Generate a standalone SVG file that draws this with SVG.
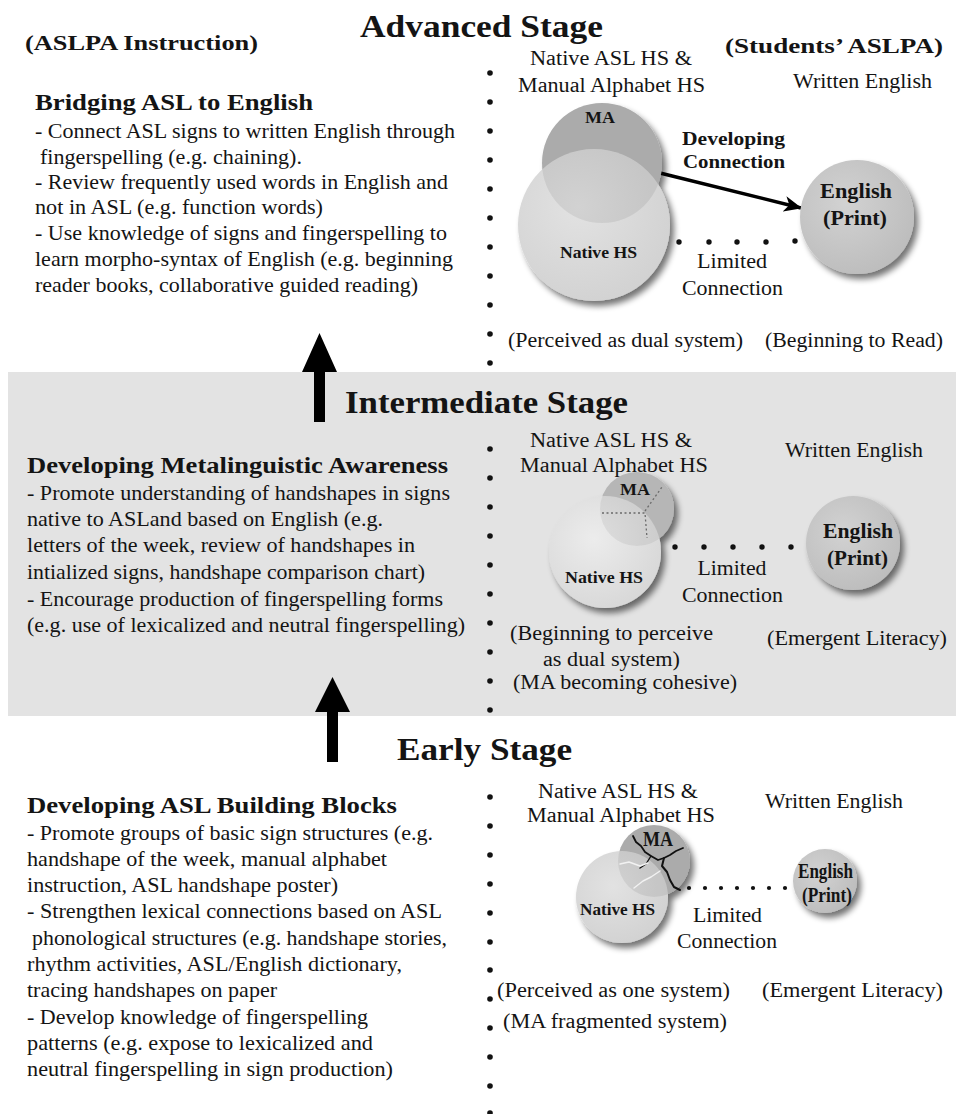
<svg xmlns="http://www.w3.org/2000/svg" width="956" height="1114" viewBox="0 0 956 1114">
<style>
.t{font-family:"Liberation Serif","Times New Roman",serif;font-size:22px;fill:#141414}
.r{font-size:20px}
.b{font-weight:bold}
.ttl{font-size:32px;font-weight:bold}
.hd{font-size:24px;font-weight:bold}
.m{text-anchor:middle}
.s16{font-size:16px}
.s18{font-size:18px}
.vd{fill:#111}
.cd{fill:#111}
.ua{fill:#000}
</style>
<defs>
<filter id="ds" x="-30%" y="-30%" width="170%" height="170%">
<feGaussianBlur in="SourceAlpha" stdDeviation="3"/>
<feOffset dx="4" dy="5" result="o"/>
<feComponentTransfer><feFuncA type="linear" slope="0.55"/></feComponentTransfer>
<feMerge><feMergeNode/><feMergeNode in="SourceGraphic"/></feMerge>
</filter>
<radialGradient id="gN" cx="40%" cy="38%" r="65%"><stop offset="0" stop-color="#e2e2e2"/><stop offset="1" stop-color="#d2d2d2"/></radialGradient>
<radialGradient id="gN2" cx="40%" cy="38%" r="65%"><stop offset="0" stop-color="#ececec"/><stop offset="1" stop-color="#d8d8d8"/></radialGradient>
<radialGradient id="gE" cx="40%" cy="38%" r="65%"><stop offset="0" stop-color="#d2d2d2"/><stop offset="1" stop-color="#bdbdbd"/></radialGradient>
<marker id="ah" markerUnits="userSpaceOnUse" markerWidth="20" markerHeight="16" refX="17" refY="8" orient="auto">
<path d="M0,0 L18,8 L0,16 L5,8 Z" fill="#000"/>
</marker>
</defs>

<rect id="band" x="8" y="372" width="948" height="344" fill="#e3e3e3"/>

<g id="headers">
<text class="t b" x="25" y="50" font-size="24" textLength="233" lengthAdjust="spacingAndGlyphs">(ASLPA Instruction)</text>
<text class="t b" x="725" y="53" font-size="24" textLength="218" lengthAdjust="spacingAndGlyphs">(Students’ ASLPA)</text>
<text class="t ttl" x="360" y="37" textLength="243" lengthAdjust="spacingAndGlyphs">Advanced Stage</text>
<text class="t ttl" x="345" y="413" textLength="283" lengthAdjust="spacingAndGlyphs">Intermediate Stage</text>
<text class="t ttl" x="397" y="760" textLength="175" lengthAdjust="spacingAndGlyphs">Early Stage</text>
</g>

<g id="divider">
<circle class="vd" cx="490" cy="73" r="2.8"/><circle class="vd" cx="490" cy="102" r="2.8"/><circle class="vd" cx="490" cy="131" r="2.8"/><circle class="vd" cx="490" cy="160" r="2.8"/><circle class="vd" cx="490" cy="189" r="2.8"/><circle class="vd" cx="490" cy="218" r="2.8"/><circle class="vd" cx="490" cy="247" r="2.8"/><circle class="vd" cx="490" cy="276" r="2.8"/><circle class="vd" cx="490" cy="305" r="2.8"/><circle class="vd" cx="490" cy="334" r="2.8"/><circle class="vd" cx="490" cy="363" r="2.8"/>
<circle class="vd" cx="490" cy="449" r="2.8"/><circle class="vd" cx="490" cy="478" r="2.8"/><circle class="vd" cx="490" cy="507" r="2.8"/><circle class="vd" cx="490" cy="536" r="2.8"/><circle class="vd" cx="490" cy="565" r="2.8"/><circle class="vd" cx="490" cy="594" r="2.8"/><circle class="vd" cx="490" cy="623" r="2.8"/><circle class="vd" cx="490" cy="652" r="2.8"/><circle class="vd" cx="490" cy="681" r="2.8"/><circle class="vd" cx="490" cy="710" r="2.8"/>
<circle class="vd" cx="490" cy="797" r="2.8"/><circle class="vd" cx="490" cy="826" r="2.8"/><circle class="vd" cx="490" cy="855" r="2.8"/><circle class="vd" cx="490" cy="884" r="2.8"/><circle class="vd" cx="490" cy="913" r="2.8"/><circle class="vd" cx="490" cy="942" r="2.8"/><circle class="vd" cx="490" cy="970" r="2.8"/><circle class="vd" cx="490" cy="999" r="2.8"/><circle class="vd" cx="490" cy="1028" r="2.8"/><circle class="vd" cx="490" cy="1057" r="2.8"/><circle class="vd" cx="490" cy="1086" r="2.8"/><circle class="vd" cx="490" cy="1113" r="2.8"/>
</g>

<g id="stage-arrows">
<polygon class="ua" points="314,422 325,422 325,372 337,372 319.5,333 302,372 314,372"/>
<polygon class="ua" points="327,762 338,762 338,712 350,712 332.5,677 315,712 327,712"/>
</g>

<g id="advanced-instruction">
<text class="t hd" x="35" y="110" textLength="278" lengthAdjust="spacingAndGlyphs">Bridging ASL to English</text>
<text class="t" x="35" y="138" textLength="420" lengthAdjust="spacingAndGlyphs">- Connect ASL signs to written English through</text>
<text class="t" x="40" y="164" textLength="262" lengthAdjust="spacingAndGlyphs">fingerspelling (e.g. chaining).</text>
<text class="t" x="35" y="189" textLength="413" lengthAdjust="spacingAndGlyphs">- Review frequently used words in English and</text>
<text class="t" x="35" y="214" textLength="288" lengthAdjust="spacingAndGlyphs">not in ASL (e.g. function words)</text>
<text class="t" x="35" y="240" textLength="412" lengthAdjust="spacingAndGlyphs">- Use knowledge of signs and fingerspelling to</text>
<text class="t" x="35" y="266" textLength="418" lengthAdjust="spacingAndGlyphs">learn morpho-syntax of English (e.g. beginning</text>
<text class="t" x="35" y="292" textLength="383" lengthAdjust="spacingAndGlyphs">reader books, collaborative guided reading)</text>
</g>

<g id="intermediate-instruction">
<text class="t hd" x="27" y="473" textLength="421" lengthAdjust="spacingAndGlyphs">Developing Metalinguistic Awareness</text>
<text class="t" x="27" y="500" textLength="423" lengthAdjust="spacingAndGlyphs">- Promote understanding of handshapes in signs</text>
<text class="t" x="27" y="526" textLength="356" lengthAdjust="spacingAndGlyphs">native to ASLand based on English (e.g.</text>
<text class="t" x="27" y="552" textLength="388" lengthAdjust="spacingAndGlyphs">letters of the week, review of handshapes in</text>
<text class="t" x="27" y="579" textLength="398" lengthAdjust="spacingAndGlyphs">intialized signs, handshape comparison chart)</text>
<text class="t" x="27" y="606" textLength="416" lengthAdjust="spacingAndGlyphs">- Encourage production of fingerspelling forms</text>
<text class="t" x="27" y="632" textLength="438" lengthAdjust="spacingAndGlyphs">(e.g. use of lexicalized and neutral fingerspelling)</text>
</g>

<g id="early-instruction">
<text class="t hd" x="27" y="813" textLength="370" lengthAdjust="spacingAndGlyphs">Developing ASL Building Blocks</text>
<text class="t" x="27" y="840" textLength="406" lengthAdjust="spacingAndGlyphs">- Promote groups of basic sign structures (e.g.</text>
<text class="t" x="27" y="866" textLength="360" lengthAdjust="spacingAndGlyphs">handshape of the week, manual alphabet</text>
<text class="t" x="27" y="892" textLength="311" lengthAdjust="spacingAndGlyphs">instruction, ASL handshape poster)</text>
<text class="t" x="27" y="918" textLength="415" lengthAdjust="spacingAndGlyphs">- Strengthen lexical connections based on ASL</text>
<text class="t" x="32" y="945" textLength="415" lengthAdjust="spacingAndGlyphs">phonological structures (e.g. handshape stories,</text>
<text class="t" x="27" y="971" textLength="375" lengthAdjust="spacingAndGlyphs">rhythm activities, ASL/English dictionary,</text>
<text class="t" x="27" y="997" textLength="250" lengthAdjust="spacingAndGlyphs">tracing handshapes on paper</text>
<text class="t" x="27" y="1024" textLength="341" lengthAdjust="spacingAndGlyphs">- Develop knowledge of fingerspelling</text>
<text class="t" x="27" y="1050" textLength="346" lengthAdjust="spacingAndGlyphs">patterns (e.g. expose to lexicalized and</text>
<text class="t" x="27" y="1076" textLength="366" lengthAdjust="spacingAndGlyphs">neutral fingerspelling in sign production)</text>
</g>

<g id="connectors">
<line x1="660" y1="173" x2="801" y2="208" stroke="#000" stroke-width="3.4" marker-end="url(#ah)"/>
<g class="cd">
<circle cx="679" cy="242" r="2.7"/><circle cx="709" cy="242" r="2.7"/><circle cx="737" cy="242" r="2.7"/><circle cx="766" cy="242" r="2.7"/><circle cx="795" cy="241" r="2.7"/>
<circle cx="675" cy="547" r="2.7"/><circle cx="704" cy="547" r="2.7"/><circle cx="733" cy="547" r="2.7"/><circle cx="762" cy="547" r="2.7"/><circle cx="791" cy="547" r="2.7"/>
<circle cx="689" cy="888" r="2.1"/><circle cx="705" cy="888" r="2.1"/><circle cx="721" cy="888" r="2.1"/><circle cx="737" cy="888" r="2.1"/><circle cx="753" cy="888" r="2.1"/><circle cx="769" cy="888" r="2.1"/><circle cx="785" cy="888" r="2.1"/>
</g>
</g>

<g id="adv-asl">
<text class="t r m" x="611" y="65" textLength="162" lengthAdjust="spacingAndGlyphs">Native ASL HS &amp;</text>
<text class="t r m" x="611.5" y="92" textLength="187" lengthAdjust="spacingAndGlyphs">Manual Alphabet HS</text>
<g filter="url(#ds)">
<circle cx="602" cy="163" r="60" fill="#b8b8b8"/>
<circle cx="594" cy="225" r="76" fill="url(#gN)"/>
<circle cx="602" cy="163" r="60" fill="#000" fill-opacity="0.07"/>
</g>
<text class="t b m s16" x="600" y="123" textLength="30" lengthAdjust="spacingAndGlyphs">MA</text>
<text class="t b m s16" x="598.5" y="258" textLength="77" lengthAdjust="spacingAndGlyphs">Native HS</text>
<text class="t r m" x="625.5" y="347" textLength="235" lengthAdjust="spacingAndGlyphs">(Perceived as dual system)</text>
</g>
<g id="adv-english">
<text class="t r m" x="862.5" y="88" textLength="139" lengthAdjust="spacingAndGlyphs">Written English</text>
<circle cx="857" cy="217" r="57" fill="url(#gE)" filter="url(#ds)"/>
<text class="t b m" x="856" y="198" textLength="72" lengthAdjust="spacingAndGlyphs">English</text>
<text class="t b m" x="855" y="225" textLength="64" lengthAdjust="spacingAndGlyphs">(Print)</text>
<text class="t r m" x="854" y="347" textLength="178" lengthAdjust="spacingAndGlyphs">(Beginning to Read)</text>
</g>
<g id="adv-labels">
<text class="t b m s18" x="733.5" y="145" textLength="103" lengthAdjust="spacingAndGlyphs">Developing</text>
<text class="t b m s18" x="734" y="168" textLength="102" lengthAdjust="spacingAndGlyphs">Connection</text>
<text class="t r m" x="732" y="268" textLength="70" lengthAdjust="spacingAndGlyphs">Limited</text>
<text class="t r m" x="732.5" y="295" textLength="101" lengthAdjust="spacingAndGlyphs">Connection</text>
</g>

<g id="int-asl">
<text class="t r m" x="611" y="447" textLength="162" lengthAdjust="spacingAndGlyphs">Native ASL HS &amp;</text>
<text class="t r m" x="614" y="472" textLength="188" lengthAdjust="spacingAndGlyphs">Manual Alphabet HS</text>
<g filter="url(#ds)">
<circle cx="637" cy="509" r="37" fill="#c2c2c2"/>
<circle cx="605" cy="552" r="56" fill="url(#gN2)"/>
<circle cx="637" cy="509" r="37" fill="#000" fill-opacity="0.06"/>
</g>
<g fill="none" stroke="#6a6a6a" stroke-width="1.3" stroke-dasharray="2,2.5">
<path d="M602,513 L645,513 L647,538"/>
<path d="M645,511 L662,487"/>
</g>
<text class="t b m s16" x="635" y="495" textLength="30" lengthAdjust="spacingAndGlyphs">MA</text>
<text class="t b m s16" x="604" y="583" textLength="78" lengthAdjust="spacingAndGlyphs">Native HS</text>
<text class="t r m" x="611.5" y="640" textLength="203" lengthAdjust="spacingAndGlyphs">(Beginning to perceive</text>
<text class="t r m" x="611.5" y="666" textLength="137" lengthAdjust="spacingAndGlyphs">as dual system)</text>
<text class="t r m" x="625" y="689" textLength="224" lengthAdjust="spacingAndGlyphs">(MA becoming cohesive)</text>
</g>
<g id="int-english">
<text class="t r m" x="854" y="457" textLength="138" lengthAdjust="spacingAndGlyphs">Written English</text>
<circle cx="853" cy="543" r="47" fill="url(#gE)" filter="url(#ds)"/>
<text class="t b m" x="858" y="538" textLength="70" lengthAdjust="spacingAndGlyphs">English</text>
<text class="t b m" x="857.5" y="565" textLength="61" lengthAdjust="spacingAndGlyphs">(Print)</text>
<text class="t r m" x="857" y="645" textLength="180" lengthAdjust="spacingAndGlyphs">(Emergent Literacy)</text>
</g>
<g id="int-labels">
<text class="t r m" x="732" y="575" textLength="69" lengthAdjust="spacingAndGlyphs">Limited</text>
<text class="t r m" x="732.5" y="602" textLength="101" lengthAdjust="spacingAndGlyphs">Connection</text>
</g>

<g id="early-asl">
<text class="t r m" x="618" y="798" textLength="160" lengthAdjust="spacingAndGlyphs">Native ASL HS &amp;</text>
<text class="t r m" x="621" y="822" textLength="188" lengthAdjust="spacingAndGlyphs">Manual Alphabet HS</text>
<g filter="url(#ds)">
<circle cx="654" cy="861" r="36" fill="#b8b8b8"/>
<circle cx="622" cy="897" r="46" fill="url(#gN)"/>
<circle cx="654" cy="861" r="36" fill="#000" fill-opacity="0.07"/>
</g>
<g fill="none" stroke-linejoin="round" stroke-linecap="round">
<path d="M633,836 L636,842 L641,846 L645,852 L651,856 L658,860 L664,858 L670,855 L676,851 L683,848" stroke="#111" stroke-width="1.8"/>
<path d="M664,858 L662,866 L667,872 L670,880 L674,887 L680,890" stroke="#111" stroke-width="2"/>
<path d="M651,856 L646,864 L640,868" stroke="#111" stroke-width="1.4"/>
<path d="M620,864 L629,862 L640,866 L648,863" stroke="#f2f2f2" stroke-width="1.4"/>
<path d="M634,888 L643,881 L651,877 L660,871" stroke="#f2f2f2" stroke-width="1.4"/>
</g>
<text class="t b m" x="658" y="846" font-size="14" textLength="30" lengthAdjust="spacingAndGlyphs">MA</text>
<text class="t b m s16" x="617.5" y="915" textLength="75" lengthAdjust="spacingAndGlyphs">Native HS</text>
<text class="t r m" x="613.5" y="997" textLength="233" lengthAdjust="spacingAndGlyphs">(Perceived as one system)</text>
<text class="t r m" x="615" y="1028" textLength="224" lengthAdjust="spacingAndGlyphs">(MA fragmented system)</text>
</g>
<g id="early-english">
<text class="t r m" x="834" y="808" textLength="138" lengthAdjust="spacingAndGlyphs">Written English</text>
<circle cx="825" cy="881" r="32" fill="url(#gE)" filter="url(#ds)"/>
<text class="t b m" x="825.5" y="878" font-size="14" textLength="55" lengthAdjust="spacingAndGlyphs">English</text>
<text class="t b m" x="827" y="902" font-size="12" textLength="50" lengthAdjust="spacingAndGlyphs">(Print)</text>
<text class="t r m" x="852.5" y="997" textLength="181" lengthAdjust="spacingAndGlyphs">(Emergent Literacy)</text>
</g>
<g id="early-labels">
<text class="t r m" x="727.5" y="922" textLength="69" lengthAdjust="spacingAndGlyphs">Limited</text>
<text class="t r m" x="727" y="948" textLength="100" lengthAdjust="spacingAndGlyphs">Connection</text>
</g>
</svg>
